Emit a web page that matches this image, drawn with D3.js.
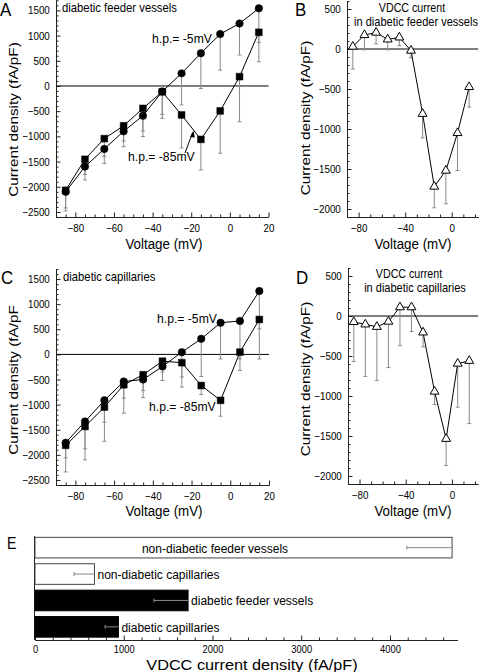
<!DOCTYPE html>
<html><head><meta charset="utf-8">
<script src="https://cdn.jsdelivr.net/npm/d3@7"></script>
<style>
body{margin:0;background:#fff}
svg{display:block}
text{font-family:"Liberation Sans",Arial,Helvetica,sans-serif;fill:#000}
</style>
</head><body>
<svg id="c" width="480" height="672"></svg>
<script>
// ---------- data ----------
const voltages = [-85,-75,-65,-55,-45,-35,-25,-15,-5,5,15];

// Panel A: diabetic feeder vessels
const feederHp5     = [-2100,-1600,-1250,-900,-590,-110,250,650,1030,1240,1540];
const feederHp5Err  = [380,265,285,305,415,530,625,700,715,625,680];
const feederHp85    = [-2070,-1455,-1045,-790,-445,-115,-575,-1060,-495,185,1065];
const feederHp85Err = [350,300,350,300,450,450,655,605,840,895,585];

// Panel C: diabetic capillaries
const capHp5     = [-1760,-1335,-915,-540,-500,-240,45,310,630,665,1260];
const capHp5Err  = [300,545,435,330,220,110,495,750,720,755,750];
const capHp85    = [-1810,-1435,-1050,-605,-405,-135,-165,-620,-915,45,695];
const capHp85Err = [530,665,680,565,455,385,485,180,315,365,785];

// Panel B: VDCC current in diabetic feeder vessels
const vdccFeeder    = [30,175,205,120,145,-20,-810,-1720,-1520,-1050,-475];
const vdccFeederErr = [280,185,140,130,105,90,300,265,415,470,250];

// Panel D: VDCC current in diabetic capillaries
const vdccCap    = [-75,-105,-135,-70,110,110,-205,-945,-1535,-595,-560];
const vdccCapErr = [495,650,670,575,480,305,180,160,335,545,785];

// Panel E: VDCC current density
const groups     = ["non-diabetic feeder vessels","non-diabetic capillaries","diabetic feeder vessels","diabetic capillaries"];
const groupMeans = [4700,670,1725,940];
const groupErrs  = [510,230,385,150];
const groupFill  = ["#fff","#fff","#000","#000"];

// tick values
const ivXMajor = [-80,-60,-40,-20,0,20];
const ivYMajor = [-2500,-2000,-1500,-1000,-500,0,500,1000,1500];
const vdccXMajor = [-80,-40,0];
const vdccYMajor = [-2000,-1500,-1000,-500,0,500];
const eXMajor = [0,1000,2000,3000,4000];

// ---------- drawing ----------
const svg = d3.select("#c");
const SX = 0.89;
const AXC = "#222", ERRC = "#8a8a8a";

function txt(x,y,str,size,anchor,rot,sx){
  return svg.append("text")
    .attr("transform",`translate(${x},${y}) scale(${sx||SX},1)` + (rot?` rotate(${rot})`:""))
    .attr("font-size",size).attr("text-anchor",anchor||"start").text(str);
}
function range(a,b,s){const r=[];for(let v=a;v<=b+1e-9;v+=s)r.push(Math.round(v*100)/100);return r;}

function axes(xs, ys, xMajor, xMinorStep, yMajor, yMinorStep){
  const yb = ys.range()[0], xl = xs.range()[0];
  const [xd0,xd1] = xs.domain(), [yd0,yd1] = ys.domain();
  const xMinor = range(Math.ceil(xd0/xMinorStep)*xMinorStep, xd1, xMinorStep).filter(v=>!xMajor.includes(v));
  const yMinor = range(Math.ceil(yd0/yMinorStep)*yMinorStep, yd1, yMinorStep).filter(v=>!yMajor.includes(v));
  const gx = svg.append("g").attr("transform",`translate(0,${yb})`).style("color",AXC);
  gx.call(d3.axisBottom(xs).tickValues(xMinor).tickSizeInner(-2.5).tickSizeOuter(0).tickFormat(""));
  gx.append("g").call(d3.axisBottom(xs).tickValues(xMajor).tickSizeInner(-4.5).tickSizeOuter(0).tickPadding(7).tickFormat(d3.format("d")));
  const gy = svg.append("g").attr("transform",`translate(${xl},0)`).style("color",AXC);
  gy.call(d3.axisLeft(ys).tickValues(yMinor).tickSizeInner(-2.5).tickSizeOuter(0).tickFormat(""));
  gy.append("g").call(d3.axisLeft(ys).tickValues(yMajor).tickSizeInner(-4.5).tickSizeOuter(0).tickPadding(7).tickFormat(d3.format("d")));
  svg.selectAll(".tick text").attr("font-size",11).attr("font-family",null).attr("transform",`scale(${SX},1)`).style("fill","#000");
  svg.selectAll(".domain").attr("stroke-width",1);
  // zero line
  svg.append("line").attr("x1",xl).attr("x2",xs.range()[1]).attr("y1",ys(0)).attr("y2",ys(0)).attr("stroke","#000").attr("stroke-width",1);
}

function errBars(xs, ys, vals, errs){
  const g = svg.append("g").attr("stroke",ERRC).attr("stroke-width",1);
  voltages.forEach((v,i)=>{
    const x = xs(v), y1 = ys(vals[i]), y2 = ys(vals[i]-errs[i]);
    g.append("line").attr("x1",x).attr("x2",x).attr("y1",y1).attr("y2",y2);
    g.append("line").attr("x1",x-2).attr("x2",x+2).attr("y1",y2).attr("y2",y2);
  });
}
function seriesLine(xs, ys, vals){
  const line = d3.line().x((d,i)=>xs(voltages[i])).y(d=>ys(d));
  svg.append("path").datum(vals).attr("d",line).attr("fill","none").attr("stroke","#000").attr("stroke-width",1);
}
function markers(xs, ys, vals, type){
  const sym = {circle:[d3.symbolCircle,44], square:[d3.symbolSquare,46], triangle:[d3.symbolTriangle,34]}[type];
  svg.append("g").selectAll("path").data(vals).join("path")
    .attr("transform",(d,i)=>`translate(${xs(voltages[i])},${ys(d)})`)
    .attr("d",d3.symbol().type(sym[0]).size(sym[1]))
    .attr("fill",type==="triangle"?"#fff":"#000")
    .attr("stroke","#000").attr("stroke-width",type==="triangle"?1:0.5);
}

// ----- Panel A -----
const xA = d3.scaleLinear().domain([-90,20]).range([56,268.5]);
const yA = d3.scaleLinear().domain([-2600,1700]).range([217,0.3]);
axes(xA,yA,ivXMajor,5,ivYMajor,100);
errBars(xA,yA,feederHp5,feederHp5Err);
errBars(xA,yA,feederHp85,feederHp85Err);
seriesLine(xA,yA,feederHp5); seriesLine(xA,yA,feederHp85);
markers(xA,yA,feederHp5,"circle"); markers(xA,yA,feederHp85,"square");

// ----- Panel C -----
const xC = d3.scaleLinear().domain([-90,20]).range([56,269]);
const yC = d3.scaleLinear().domain([-2600,1700]).range([485,269]);
axes(xC,yC,ivXMajor,5,ivYMajor,100);
errBars(xC,yC,capHp5,capHp5Err);
errBars(xC,yC,capHp85,capHp85Err);
seriesLine(xC,yC,capHp5); seriesLine(xC,yC,capHp85);
markers(xC,yC,capHp5,"circle"); markers(xC,yC,capHp85,"square");

// ----- Panel B -----
const xB = d3.scaleLinear().domain([-90,22.6]).range([347,478]);
const yB = d3.scaleLinear().domain([-2100,600]).range([217,1]);
axes(xB,yB,vdccXMajor,10,vdccYMajor,100);
errBars(xB,yB,vdccFeeder,vdccFeederErr);
seriesLine(xB,yB,vdccFeeder);
markers(xB,yB,vdccFeeder,"triangle");

// ----- Panel D -----
const xD = d3.scaleLinear().domain([-90,22.6]).range([348,478]);
const yD = d3.scaleLinear().domain([-2100,600]).range([484,268]);
axes(xD,yD,vdccXMajor,10,vdccYMajor,100);
errBars(xD,yD,vdccCap,vdccCapErr);
seriesLine(xD,yD,vdccCap);
markers(xD,yD,vdccCap,"triangle");

// ----- Panel E -----
const xE = d3.scaleLinear().domain([0,4760]).range([35,457.4]);
const yE = d3.scaleBand().domain(groups).range([535.5,639]).paddingInner(0.22).paddingOuter(0.07);
(function(){
  const gx = svg.append("g").attr("transform","translate(0,640)").style("color",AXC);
  const minor = range(0,4700,200).filter(v=>!eXMajor.includes(v));
  gx.call(d3.axisBottom(xE).tickValues(minor).tickSizeInner(-2.5).tickSizeOuter(0).tickFormat(""));
  gx.append("g").call(d3.axisBottom(xE).tickValues(eXMajor).tickSizeInner(-4.5).tickSizeOuter(0).tickPadding(6).tickFormat(d3.format("d")));
  gx.selectAll(".tick text").attr("font-size",10.5).attr("font-family",null).attr("transform",`scale(${SX},1)`).style("fill","#000");
  svg.append("line").attr("x1",34.5).attr("x2",34.5).attr("y1",536).attr("y2",640).attr("stroke",AXC);
  groups.forEach((g,i)=>{
    svg.append("rect").attr("x",xE(0)).attr("y",yE(g)).attr("width",xE(groupMeans[i])-xE(0)).attr("height",yE.bandwidth())
      .attr("fill",groupFill[i]).attr("stroke",i<2?"#444":"#000").attr("stroke-width",1);
    const xe = xE(groupMeans[i]-groupErrs[i]), xm = xE(groupMeans[i]), yc = yE(g)+yE.bandwidth()/2;
    svg.append("line").attr("x1",xe).attr("x2",xm).attr("y1",yc).attr("y2",yc).attr("stroke",ERRC);
    svg.append("line").attr("x1",xe).attr("x2",xe).attr("y1",yc-2).attr("y2",yc+2).attr("stroke",ERRC);
  });
  txt(215,553,groups[0],13.5,"middle");
  groups.slice(1).forEach((g,j)=>{
    const i=j+1;
    txt(xE(groupMeans[i])+3, yE(g)+yE.bandwidth()/2+5, g, 13.5, "start");
  });
})();

// ----- text annotations -----
txt(0,16,"A",19); txt(295,16,"B",19); txt(1,284,"C",19); txt(296,284,"D",19); txt(7,549,"E",16);
txt(62,11.5,"diabetic feeder vessels",12.7);
txt(63,281,"diabetic capillaries",12.7);
txt(412,11.5,"VDCC current",12,"middle");
txt(416,25.5,"in diabetic feeder vessels",12,"middle",0,0.92);
txt(409,277.5,"VDCC current",12,"middle");
txt(415,291.5,"in diabetic capillaries",12,"middle",0,0.92);
txt(152,43,"h.p.= -5mV",13.7);
txt(128,161,"h.p.= -85mV",13.7);
txt(157,323,"h.p.= -5mV",13.7);
txt(149,411,"h.p.= -85mV",13.7);
// arrow in A
svg.append("line").attr("x1",185).attr("y1",153).attr("x2",192.5).attr("y2",133).attr("stroke","#000");
svg.append("path").attr("d","M193.5,130.5 L190,137 L194.8,137.5 Z").attr("fill","#000");

// axis titles
txt(164,249,"Voltage (mV)",15,"middle");
txt(164,516,"Voltage (mV)",15,"middle");
txt(413,249,"Voltage (mV)",15,"middle");
txt(413,516,"Voltage (mV)",15,"middle");
txt(252,670,"VDCC current density (fA/pF)",15.5,"middle",0,1.05);
txt(18,119.5,"Current density (fA/pF)",15.3,"middle",-90);
txt(18,380,"Current density (fA/pF",15.3,"middle",-90);
txt(310,118,"Current density (fA/pF)",15.3,"middle",-90);
txt(310,379,"Current density (fA/pF)",15.3,"middle",-90);
</script>
</body></html>
